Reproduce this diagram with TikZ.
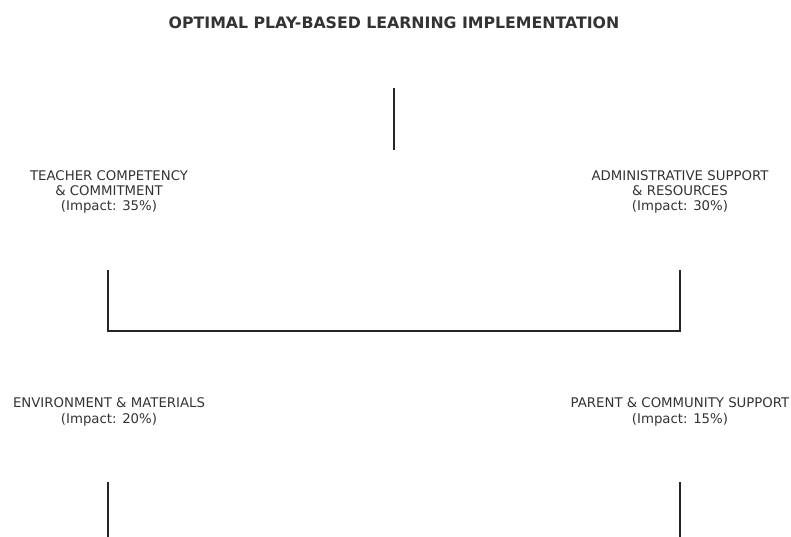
\documentclass[tikz,border=0pt]{standalone}
\usepackage{fontspec}
\setmainfont{DejaVu Sans}
\definecolor{txt}{HTML}{333333}
\begin{document}
\begin{tikzpicture}[x=1pt,y=-1pt,
  label/.style={align=center,text=txt,font=\fontsize{13.3}{15.3}\selectfont,inner sep=0pt},
  heading/.style={text=txt,font=\fontsize{15.75}{18}\selectfont\bfseries,inner sep=0pt},
  link/.style={draw=black!85,line width=1.6pt}]
\useasboundingbox[fill=white] (0,0) rectangle (791,537);
\node[heading] (title) at (394,23) {OPTIMAL PLAY-BASED LEARNING IMPLEMENTATION};
\node[label] (teacher) at (109,192) {TEACHER COMPETENCY\\\& COMMITMENT\\(Impact: 35\%)};
\node[label] (admin) at (680,192) {ADMINISTRATIVE SUPPORT\\\& RESOURCES\\(Impact: 30\%)};
\node[label] (env) at (109,412) {ENVIRONMENT \& MATERIALS\\(Impact: 20\%)};
\node[label] (parent) at (680,412) {PARENT \& COMMUNITY SUPPORT\\(Impact: 15\%)};
\coordinate (topA) at (394,88);
\coordinate (topB) at (394,150);
\coordinate (midL) at (108,270);
\coordinate (midR) at (680,270);
\coordinate (botL) at (108,482);
\coordinate (botR) at (680,482);
\draw[link] (topA) -- (topB);
\draw[link] (midL) |- (680,331) -- (midR);
\draw[link] (botL) -- (108,537);
\draw[link] (botR) -- (680,537);
\end{tikzpicture}
\end{document}
